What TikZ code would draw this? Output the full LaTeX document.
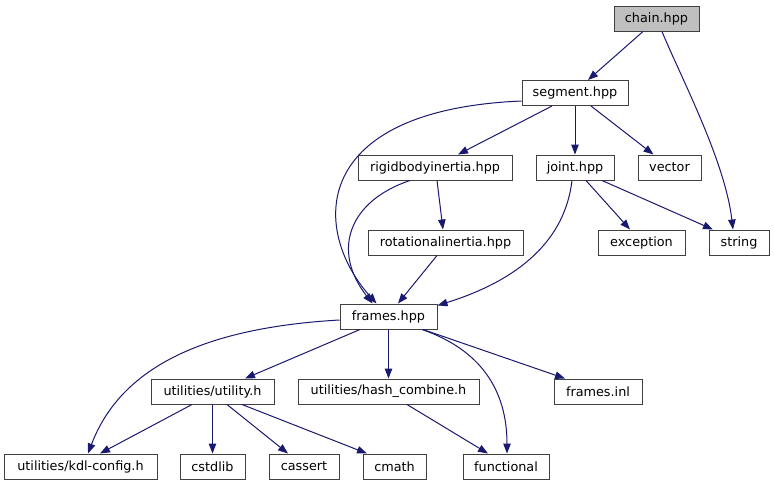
\documentclass[tikz,border=0pt]{standalone}
\usepackage{fontspec}
\setmainfont{DejaVu Sans}
\usetikzlibrary{arrows.meta}
\definecolor{edgeblue}{HTML}{191970}
\definecolor{boxline}{HTML}{404040}
\definecolor{rootfill}{HTML}{BFBFBF}
\begin{document}
\begin{tikzpicture}[x=1pt,y=-1pt,
  file/.style={draw=boxline,line width=1pt,fill=white,inner sep=0pt,minimum height=25pt,font=\fontsize{12.8}{14}\selectfont},
  dep/.style={draw=edgeblue,line width=1pt,-{Triangle[length=10pt,width=7.5pt]},edgeblue}]
\useasboundingbox (0,0) rectangle (774,485);
\node[file,fill=rootfill,minimum width=85pt] (chain) at (656.5,18.5) {chain.hpp};
\node[file,minimum width=106pt] (segment) at (575,93) {segment.hpp};
\node[file,minimum width=154pt] (rigid) at (435,167.5) {rigidbodyinertia.hpp};
\node[file,minimum width=78pt] (joint) at (575,167.5) {joint.hpp};
\node[file,minimum width=63pt] (vector) at (669.5,167.5) {vector};
\node[file,minimum width=155pt] (rot) at (445.5,242.5) {rotationalinertia.hpp};
\node[file,minimum width=87pt] (exception) at (641.5,242.5) {exception};
\node[file,minimum width=60pt] (string) at (739,242.5) {string};
\node[file,minimum width=97pt] (frames) at (388.5,316.5) {frames.hpp};
\node[file,minimum width=123pt] (utility) at (212.5,391.5) {utilities/utility.h};
\node[file,minimum width=181pt] (hash) at (388.5,391.5) {utilities/hash\_combine.h};
\node[file,minimum width=88pt] (inl) at (598,391.5) {frames.inl};
\node[file,minimum width=153pt] (kdl) at (80.5,466.5) {utilities/kdl-config.h};
\node[file,minimum width=65pt] (cstdlib) at (212.5,466.5) {cstdlib};
\node[file,minimum width=70pt] (cassert) at (304,466.5) {cassert};
\node[file,minimum width=63pt] (cmath) at (394.5,466.5) {cmath};
\node[file,minimum width=86pt] (functional) at (506,466.5) {functional};

\draw[dep] ([xshift=-13.5pt]chain.south) -- ([xshift=13pt]segment.north);
\draw[dep] ([xshift=5.5pt]chain.south) .. controls +(18,44) and +(-8,-69) .. ([xshift=-6pt]string.north);
\draw[dep] ([xshift=-23pt]segment.south) -- ([xshift=23pt]rigid.north);
\draw[dep] ([yshift=-8pt]segment.west) .. controls +(-212,9) and +(-66,-74) .. ([xshift=-12pt]frames.north);
\draw[dep] (segment.south) -- (joint.north);
\draw[dep] ([xshift=16pt]segment.south) -- ([xshift=-16pt]vector.north);
\draw[dep] ([xshift=-25pt]rigid.south) .. controls +(-60,20) and +(-42,-54) .. ([xshift=-16pt]frames.north);
\draw[dep] ([xshift=2pt]rigid.south) -- ([xshift=-2.5pt]rot.north);
\draw[dep] ([xshift=-8.5pt]rot.south) -- ([xshift=9.5pt]frames.north);
\draw[dep] ([xshift=-3pt]joint.south) .. controls +(-7,59) and +(83,-26) .. ([yshift=-2pt]frames.north east);
\draw[dep] ([xshift=11pt]joint.south) -- ([xshift=-11.5pt]exception.north);
\draw[dep] ([xshift=27pt]joint.south) -- ([xshift=-26pt]string.north);
\draw[dep] ([yshift=-3.5pt]frames.west) .. controls +(-140,8) and +(32,-84) .. ([xshift=7.5pt]kdl.north);
\draw[dep] ([xshift=-28.5pt]frames.south) -- ([xshift=32.5pt]utility.north);
\draw[dep] (frames.south) -- (hash.north);
\draw[dep] ([xshift=33.5pt]frames.south) .. controls +(58,20) and +(0,-64) .. ([xshift=1pt]functional.north);
\draw[dep] ([xshift=34.5pt]frames.south) -- ([xshift=-33pt]inl.north);
\draw[dep] ([xshift=-20.5pt]utility.south) -- ([xshift=19.5pt]kdl.north);
\draw[dep] (utility.south) -- (cstdlib.north);
\draw[dep] ([xshift=14.5pt]utility.south) -- ([xshift=-16pt]cassert.north);
\draw[dep] ([xshift=29.5pt]utility.south) -- ([xshift=-27.5pt]cmath.north);
\draw[dep] ([xshift=18.5pt]hash.south) -- ([xshift=-18pt]functional.north);
\end{tikzpicture}
\end{document}
